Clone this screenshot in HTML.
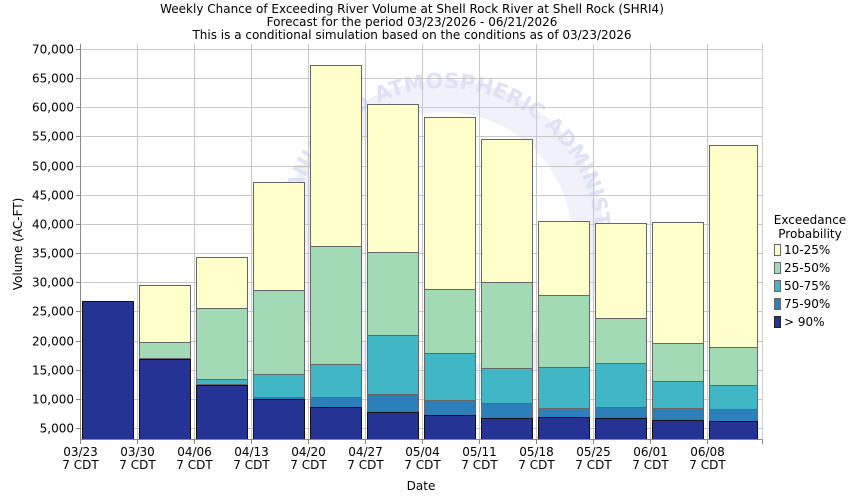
<!DOCTYPE html>
<html><head><meta charset="utf-8"><style>body{margin:0;background:#fff}svg{display:block;font-family:"DejaVu Sans","Liberation Sans",sans-serif}</style></head><body>
<svg width="850" height="500" viewBox="0 0 850 500" xmlns="http://www.w3.org/2000/svg">
<rect width="850" height="500" fill="#fff"/>
<g font-size="12" fill="#000" text-anchor="middle">
<text x="412" y="13">Weekly Chance of Exceeding River Volume at Shell Rock River at Shell Rock (SHRI4)</text>
<text x="412" y="26">Forecast for the period 03/23/2026 - 06/21/2026</text>
<text x="412" y="39">This is a conditional simulation based on the conditions as of 03/23/2026</text>
</g>
<defs><path id="arc" d="M292,240 A152,152 0 1 1 596,240"/></defs>
<circle cx="444" cy="240" r="160" fill="#f0f1fb"/>
<circle cx="444" cy="240" r="128" fill="#fff"/>
<text font-size="21" font-weight="bold" fill="#dfe2f6"><textPath href="#arc">OCEANIC AND ATMOSPHERIC ADMINISTRATION</textPath></text>
<g id="grid" stroke="#c8c8c8" stroke-width="1"></g>
<g stroke="#666" stroke-width="1">
<rect x="82.5" y="301.5" width="51" height="138" fill="#253494" stroke="#111"/>

<rect x="139.5" y="285.5" width="51" height="57" fill="#ffffcc"/>
<rect x="139.5" y="342.5" width="51" height="16" fill="#a1dab4"/>
<rect x="139.5" y="358.5" width="51" height="1" fill="#2c7fb8"/>
<rect x="139.5" y="359.5" width="51" height="80" fill="#253494" stroke="#111"/>

<rect x="196.5" y="257.5" width="51" height="51" fill="#ffffcc"/>
<rect x="196.5" y="308.5" width="51" height="71" fill="#a1dab4"/>
<rect x="196.5" y="379.5" width="51" height="5" fill="#41b6c4"/>
<rect x="196.5" y="385.5" width="51" height="54" fill="#253494" stroke="#111"/>

<rect x="253.5" y="182.5" width="51" height="108" fill="#ffffcc"/>
<rect x="253.5" y="290.5" width="51" height="84" fill="#a1dab4"/>
<rect x="253.5" y="374.5" width="51" height="23" fill="#41b6c4"/>
<rect x="253.5" y="397.5" width="51" height="2" fill="#2c7fb8"/>
<rect x="253.5" y="399.5" width="51" height="40" fill="#253494" stroke="#111"/>

<rect x="310.5" y="65.5" width="51" height="181" fill="#ffffcc"/>
<rect x="310.5" y="246.5" width="51" height="118" fill="#a1dab4"/>
<rect x="310.5" y="364.5" width="51" height="33" fill="#41b6c4"/>
<rect x="310.5" y="397.5" width="51" height="10" fill="#2c7fb8"/>
<rect x="310.5" y="407.5" width="51" height="32" fill="#253494" stroke="#111"/>

<rect x="367.5" y="104.5" width="51" height="148" fill="#ffffcc"/>
<rect x="367.5" y="252.5" width="51" height="83" fill="#a1dab4"/>
<rect x="367.5" y="335.5" width="51" height="59" fill="#41b6c4"/>
<rect x="367.5" y="394.5" width="51" height="18" fill="#2c7fb8"/>
<rect x="367.5" y="412.5" width="51" height="27" fill="#253494" stroke="#111"/>

<rect x="424.5" y="117.5" width="51" height="172" fill="#ffffcc"/>
<rect x="424.5" y="289.5" width="51" height="64" fill="#a1dab4"/>
<rect x="424.5" y="353.5" width="51" height="47" fill="#41b6c4"/>
<rect x="424.5" y="400.5" width="51" height="15" fill="#2c7fb8"/>
<rect x="424.5" y="415.5" width="51" height="24" fill="#253494" stroke="#111"/>

<rect x="481.5" y="139.5" width="51" height="143" fill="#ffffcc"/>
<rect x="481.5" y="282.5" width="51" height="86" fill="#a1dab4"/>
<rect x="481.5" y="368.5" width="51" height="35" fill="#41b6c4"/>
<rect x="481.5" y="403.5" width="51" height="15" fill="#2c7fb8"/>
<rect x="481.5" y="418.5" width="51" height="21" fill="#253494" stroke="#111"/>

<rect x="538.5" y="221.5" width="51" height="74" fill="#ffffcc"/>
<rect x="538.5" y="295.5" width="51" height="72" fill="#a1dab4"/>
<rect x="538.5" y="367.5" width="51" height="41" fill="#41b6c4"/>
<rect x="538.5" y="408.5" width="51" height="9" fill="#2c7fb8"/>
<rect x="538.5" y="417.5" width="51" height="22" fill="#253494" stroke="#111"/>

<rect x="595.5" y="223.5" width="51" height="95" fill="#ffffcc"/>
<rect x="595.5" y="318.5" width="51" height="45" fill="#a1dab4"/>
<rect x="595.5" y="363.5" width="51" height="44" fill="#41b6c4"/>
<rect x="595.5" y="407.5" width="51" height="11" fill="#2c7fb8"/>
<rect x="595.5" y="418.5" width="51" height="21" fill="#253494" stroke="#111"/>

<rect x="652.5" y="222.5" width="51" height="121" fill="#ffffcc"/>
<rect x="652.5" y="343.5" width="51" height="38" fill="#a1dab4"/>
<rect x="652.5" y="381.5" width="51" height="27" fill="#41b6c4"/>
<rect x="652.5" y="408.5" width="51" height="12" fill="#2c7fb8"/>
<rect x="652.5" y="420.5" width="51" height="19" fill="#253494" stroke="#111"/>

<rect x="709.5" y="145.5" width="48" height="202" fill="#ffffcc"/>
<rect x="709.5" y="347.5" width="48" height="38" fill="#a1dab4"/>
<rect x="709.5" y="385.5" width="48" height="24" fill="#41b6c4"/>
<rect x="709.5" y="409.5" width="48" height="12" fill="#2c7fb8"/>
<rect x="709.5" y="421.5" width="48" height="18" fill="#253494" stroke="#111"/>
</g>
<g id="axes"></g>
<g font-size="12" fill="#000">
<text x="810" y="224" text-anchor="middle">Exceedance</text>
<text x="810" y="238" text-anchor="middle">Probability</text>
<rect x="774.5" y="244.5" width="6" height="11" fill="#ffffcc" stroke="#666"/><text x="784" y="254">10-25%</text>
<rect x="774.5" y="262.5" width="6" height="11" fill="#a1dab4" stroke="#666"/><text x="784" y="272">25-50%</text>
<rect x="774.5" y="280.5" width="6" height="11" fill="#41b6c4" stroke="#666"/><text x="784" y="290">50-75%</text>
<rect x="774.5" y="298.5" width="6" height="11" fill="#2c7fb8" stroke="#666"/><text x="784" y="308">75-90%</text>
<rect x="774.5" y="316.5" width="6" height="11" fill="#253494" stroke="#222"/><text x="784" y="326">&gt; 90%</text>
<text x="421" y="490" text-anchor="middle">Date</text>
<text transform="translate(22,244) rotate(-90)" text-anchor="middle">Volume (AC-FT)</text>
</g>
<script>
var NS="http://www.w3.org/2000/svg";
function el(p,t,a,txt){var e=document.createElementNS(NS,t);for(var k in a)e.setAttribute(k,a[k]);if(txt)e.textContent=txt;p.appendChild(e);return e;}
var g=document.getElementById('grid'),ax=document.getElementById('axes');
function yy0(v){return 49+(70000-v)*379/65000;}
for(var v=5000;v<=70000;v+=5000){var yy=Math.round(yy0(v))+0.5;el(g,'line',{x1:80,x2:762,y1:yy,y2:yy});
el(ax,'line',{x1:76,x2:80,y1:yy,y2:yy,stroke:'#888'});
el(ax,'text',{x:74,y:yy+4,'font-size':12,'text-anchor':'end'},v.toLocaleString('en-US'));}
var dates=['03/23','03/30','04/06','04/13','04/20','04/27','05/04','05/11','05/18','05/25','06/01','06/08'];
for(var i=0;i<12;i++){var x=80+i*57+0.5;el(g,'line',{x1:x,x2:x,y1:44,y2:439});
el(ax,'line',{x1:x,x2:x,y1:439,y2:444,stroke:'#888'});
el(ax,'text',{x:x,y:456,'font-size':12,'text-anchor':'middle'},dates[i]);
el(ax,'text',{x:x,y:469,'font-size':12,'text-anchor':'middle'},'7 CDT');}
el(ax,'line',{x1:762.5,x2:762.5,y1:439,y2:444,stroke:'#888'});
el(ax,'line',{x1:80.5,x2:80.5,y1:44,y2:439.5,stroke:'#888'});
el(ax,'line',{x1:80,x2:763,y1:439.5,y2:439.5,stroke:'#888'});
el(ax,'line',{x1:762.5,x2:762.5,y1:44,y2:439.5,stroke:'#ccc'});
</script>
</svg>
</body></html>
